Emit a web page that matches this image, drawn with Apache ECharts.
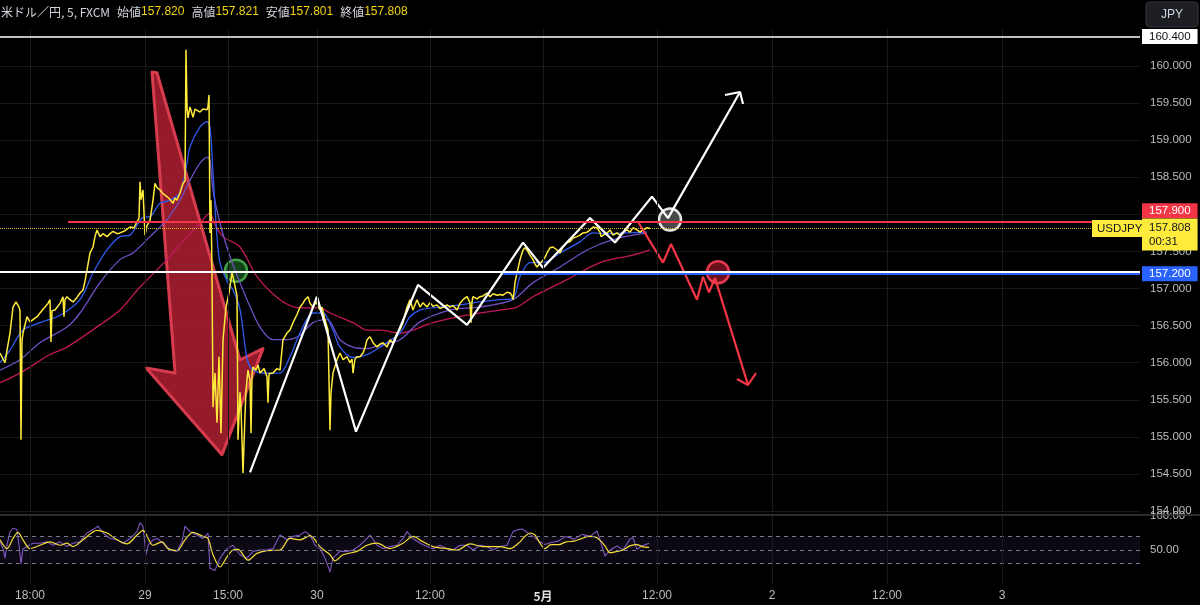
<!DOCTYPE html>
<html><head><meta charset="utf-8">
<script src="https://cdn.jsdelivr.net/npm/echarts@6/dist/echarts.min.js"></script>
<style>html,body{margin:0;padding:0;background:#000}#c{width:1200px;height:605px}</style>
</head><body><div id="c"></div>
<script>
// ---------- data (x = bar position index, y = price) ----------
const timeTicks  = [30,145,228,317,430,543,657,772,887,1002];
const timeLabels = ['18:00','29','15:00','30','12:00','5月','12:00','2','12:00','3'];

const ohlcNames  = ['始値','高値','安値','終値'];
const ohlcValues = ['157.820','157.821','157.801','157.808'];

const levelTop = 160.4, levelRed = 157.9, levelWhite = 157.22, levelBlue = 157.2, lastPrice = 157.808;

const price = [[0,156.13],[3,156.05],[5,156.00],[7,156.17],[10,156.40],[13,156.75],[16,156.82],[19,156.75],[20,156.70],[21,154.96],[22,156.30],[23,156.40],[27,156.62],[30,156.55],[33,156.58],[37,156.62],[40,156.67],[45,156.75],[48,156.80],[50,156.85],[51,156.28],[52,156.70],[55,156.71],[60,156.80],[63,156.89],[64,156.62],[65,156.85],[67,156.89],[70,156.85],[73,156.82],[77,156.88],[80,156.94],[83,156.98],[85,157.10],[87,157.25],[90,157.48],[93,157.56],[95,157.70],[97,157.79],[100,157.70],[103,157.74],[107,157.70],[110,157.74],[113,157.77],[117,157.74],[120,157.75],[125,157.78],[130,157.83],[134,157.82],[137,157.90],[139,157.95],[140,158.44],[141,158.20],[143,158.33],[145,157.72],[147,157.85],[150,157.92],[153,158.19],[155,158.42],[157,158.36],[160,158.33],[163,158.28],[167,158.24],[170,158.20],[173,158.15],[175,158.22],[177,158.19],[180,158.29],[183,158.42],[185,158.45],[186,160.22],[187,159.45],[188,159.30],[190,159.45],[193,159.31],[195,159.42],[197,159.40],[200,159.38],[203,159.42],[205,159.40],[207,159.41],[208,159.45],[209,159.61],[210,157.75],[211,158.19],[212,157.21],[213,155.40],[215,155.86],[217,155.19],[219,156.08],[221,155.05],[223,156.31],[226,156.75],[229,156.94],[232,157.21],[234,157.10],[236,157.12],[237,156.90],[238,154.96],[240,155.60],[241,155.40],[243,154.51],[245,155.30],[246,155.63],[248,155.90],[250,155.75],[251,155.05],[252,155.85],[253,155.94],[256,155.90],[258,155.97],[260,155.86],[264,155.92],[267,155.81],[268,155.46],[269,155.85],[273,155.86],[277,155.92],[280,155.90],[283,156.31],[287,156.40],[290,156.44],[293,156.54],[297,156.65],[300,156.75],[303,156.80],[305,156.85],[308,156.89],[310,156.80],[313,156.75],[316,156.82],[318,156.80],[320,156.71],[322,156.75],[325,156.58],[328,156.44],[330,155.09],[331,155.60],[333,155.86],[335,155.95],[337,156.04],[340,156.13],[343,156.04],[345,156.06],[347,156.08],[350,156.00],[352,156.05],[353,155.86],[355,156.05],[357,156.08],[360,156.08],[363,156.13],[365,156.20],[367,156.31],[370,156.35],[373,156.27],[377,156.21],[380,156.25],[383,156.27],[387,156.21],[390,156.31],[393,156.27],[397,156.40],[400,156.44],[403,156.54],[405,156.65],[407,156.75],[410,156.85],[413,156.71],[415,156.78],[417,156.85],[420,156.75],[423,156.81],[427,156.75],[430,156.81],[433,156.76],[437,156.78],[440,156.73],[443,156.75],[447,156.78],[450,156.75],[453,156.77],[457,156.71],[460,156.80],[463,156.85],[467,156.89],[470,156.81],[471,156.54],[472,156.82],[473,156.89],[477,156.86],[480,156.89],[483,156.90],[487,156.94],[490,156.89],[493,156.93],[497,156.91],[500,156.92],[503,156.91],[507,156.95],[510,156.94],[512,156.90],[513,156.85],[514,156.95],[515,157.08],[517,157.21],[520,157.39],[523,157.52],[525,157.55],[527,157.52],[530,157.45],[533,157.39],[535,157.33],[537,157.29],[540,157.34],[543,157.38],[545,157.42],[547,157.48],[550,157.55],[553,157.56],[555,157.54],[557,157.52],[560,157.48],[563,157.56],[567,157.62],[570,157.63],[573,157.68],[577,157.70],[580,157.72],[583,157.75],[587,157.76],[590,157.79],[593,157.83],[597,157.82],[600,157.76],[601,157.70],[603,157.72],[607,157.75],[610,157.79],[613,157.72],[617,157.75],[620,157.72],[623,157.76],[627,157.79],[630,157.76],[633,157.82],[637,157.79],[640,157.76],[643,157.79],[647,157.82],[650,157.81]];

const maFast = [[0,156.00],[10,156.17],[23,156.44],[40,156.54],[60,156.64],[80,156.85],[93,157.21],[107,157.52],[120,157.70],[130,157.72],[143,157.96],[150,157.97],[160,158.15],[170,158.19],[180,158.29],[187,158.69],[190,158.91],[200,159.18],[207,159.25],[210,159.18],[213,158.56],[217,157.70],[220,157.35],[227,157.10],[233,156.98],[240,156.72],[247,156.06],[253,155.90],[267,155.86],[280,155.86],[290,156.08],[300,156.40],[313,156.67],[323,156.67],[333,156.44],[340,156.21],[353,156.07],[367,156.11],[380,156.21],[400,156.40],[410,156.62],[420,156.71],[440,156.75],[460,156.78],[480,156.82],[500,156.85],[513,156.87],[520,157.16],[530,157.35],[543,157.35],[560,157.48],[580,157.63],[593,157.75],[607,157.74],[627,157.75],[647,157.76]];

const maMid = [[0,155.90],[20,156.04],[40,156.27],[67,156.48],[80,156.67],[100,157.08],[120,157.39],[133,157.48],[150,157.70],[167,157.93],[180,158.19],[190,158.46],[200,158.69],[207,158.77],[210,158.73],[213,158.33],[220,157.88],[230,157.43],[240,157.08],[247,156.85],[260,156.48],[273,156.31],[287,156.31],[300,156.37],[313,156.54],[327,156.58],[340,156.31],[353,156.21],[367,156.19],[380,156.24],[400,156.31],[420,156.55],[450,156.71],[480,156.75],[513,156.85],[533,157.08],[560,157.29],[587,157.52],[613,157.66],[647,157.75]];

const maSlow = [[0,155.73],[20,155.86],[50,156.11],[67,156.21],[100,156.51],[120,156.71],[140,157.02],[167,157.39],[187,157.70],[200,157.88],[210,158.02],[215,157.86],[223,157.70],[240,157.56],[257,157.16],[280,156.85],[300,156.74],[320,156.74],[330,156.67],[353,156.54],[367,156.44],[380,156.44],[400,156.40],[433,156.54],[467,156.64],[500,156.71],[517,156.75],[533,156.89],[567,157.12],[600,157.35],[633,157.45],[650,157.52]];

const rsi = [[0,62],[3,52],[5,38],[7,57],[10,77],[13,82],[17,80],[19,57],[21,30],[23,52],[27,55],[33,60],[40,60],[47,62],[53,57],[60,62],[67,55],[73,60],[80,62],[87,75],[93,80],[98,85],[103,75],[110,67],[117,65],[123,60],[130,67],[137,77],[140,90],[143,85],[146,43],[148,57],[153,65],[157,67],[163,60],[170,50],[177,48],[182,62],[185,85],[190,77],[197,72],[203,67],[208,75],[210,23],[215,20],[220,38],[227,52],[233,57],[240,43],[247,38],[253,48],[260,50],[267,50],[273,52],[280,72],[287,65],[293,70],[300,72],[305,77],[310,72],[315,57],[320,52],[325,38],[330,18],[333,38],[340,48],[347,48],[353,50],[360,57],[367,67],[370,72],[377,57],[383,52],[390,55],[397,57],[403,67],[407,77],[413,67],[420,60],[427,55],[433,52],[440,57],[447,52],[453,50],[460,57],[467,57],[473,50],[480,57],[487,55],[493,50],[500,55],[507,57],[513,77],[518,80],[522,81],[525,78],[533,70],[540,62],[545,58],[551,61],[558,63],[566,70],[574,66],[582,73],[590,70],[597,78],[600,65],[605,41],[610,50],[617,56],[623,50],[630,66],[633,68],[637,51],[642,56],[649,60]];

const rsiMa = [[0,65],[7,52],[13,67],[18,76],[23,65],[30,52],[40,57],[50,62],[60,57],[67,60],[73,55],[83,65],[97,79],[107,75],[117,65],[127,59],[137,72],[143,79],[153,57],[162,62],[168,52],[177,49],[185,65],[193,76],[203,70],[208,67],[213,43],[220,25],[227,40],[233,50],[238,51],[248,35],[257,45],[267,49],[280,50],[290,67],[300,65],[310,71],[320,55],[330,43],[335,34],[343,43],[357,48],[367,57],[377,60],[390,52],[403,60],[413,70],[423,62],[433,55],[447,52],[457,50],[470,59],[483,55],[500,55],[510,52],[520,62],[525,70],[530,75],[535,72],[540,60],[545,52],[551,58],[559,58],[566,62],[574,63],[582,67],[589,70],[597,68],[605,56],[610,46],[617,48],[623,50],[630,56],[637,58],[642,55],[649,54]];

// drawings (in bar/price space)
const bigArrow   = [[152,159.92],[157,159.91],[240,156.04],[263,156.19],[222,154.76],[146,155.93],[175,155.86]];
const upPath     = [[250,154.52],[317,156.89],[356,155.07],[418,157.05],[467,156.51],[523,157.62],[543,157.28],[590,157.95],[615,157.62],[652,158.24],[668,157.95],[740,159.65]];
const upHead     = [[725,159.61],[740,159.65],[743,159.49]];
const downPath   = [[638,157.90],[663,157.35],[671,157.60],[697,156.85],[703,157.16],[709,156.95],[715,157.14],[748,155.70]];
const downHead   = [[737,155.78],[748,155.70],[756,155.86]];
const circles    = [[236,157.24],[670,157.93],[718,157.22]];

// ---------- chart ----------
const circleStyles = [
  {fill:'rgba(27,94,32,0.7)', stroke:'#43a047'},
  {fill:'rgba(110,110,110,0.65)', stroke:'#e6e6e6'},
  {fill:'rgba(140,22,38,0.75)', stroke:'#e53950'}
];
const AX = '#bdbdbd';
const FONT = 'Liberation Sans';
const CJK = 'Noto Sans CJK JP';
const tagFont = {fontSize:11.5, fontFamily:FONT, lineHeight:13, padding:[1,7]};
const vGrid = {silent:true, symbol:'none', animation:false, label:{show:false},
  lineStyle:{color:'#1a1a1a', type:'solid', width:1}, data: timeTicks.map(t=>({xAxis:t}))};

const headerText = '{n|米ドル／円, 5, FXCM}' + ohlcNames.map((n,i)=>'{l|'+n+'}{v|'+ohlcValues[i]+'}').join('');

const chart = echarts.init(document.getElementById('c'));
chart.setOption({
  backgroundColor:'#000',
  animation:false,
  title:{left:1, top:6, padding:0, text:headerText, textStyle:{rich:{
    n:{color:'#d1d4dc', fontSize:12, fontFamily:CJK, fontWeight:'normal'},
    l:{color:'#d1d4dc', fontSize:12, fontFamily:CJK, fontWeight:'normal', padding:[0,0,0,7]},
    v:{color:'#f2d40e', fontSize:12, fontFamily:FONT, fontWeight:'normal'}}}},
  grid:[{left:0, right:60, top:29, height:482},{left:0, right:60, top:516, height:68}],
  xAxis:[
    {gridIndex:0, type:'value', min:0, max:1140, axisLine:{show:false}, axisTick:{show:false}, axisLabel:{show:false}, splitLine:{show:false}},
    {gridIndex:1, type:'value', min:0, max:1140, axisLine:{show:false}, axisTick:{show:false}, splitLine:{show:false},
     axisLabel:{customValues:timeTicks, color:AX, fontSize:12, fontFamily:FONT, margin:6,
       formatter:v=>{const i=timeTicks.indexOf(v); if(i<0) return ''; return timeLabels[i]==='5月' ? '{b|5月}' : timeLabels[i];},
       rich:{b:{fontWeight:'bold', color:'#e0e0e0', fontSize:12, fontFamily:CJK}}}}
  ],
  yAxis:[
    {gridIndex:0, type:'value', position:'right', min:154, max:160.5, interval:0.5,
     axisLine:{show:false}, axisTick:{show:false},
     axisLabel:{color:AX, fontSize:11.5, fontFamily:FONT, margin:10, showMinLabel:true, formatter:v=> v>160.2 ? '' : v.toFixed(3)},
     splitLine:{lineStyle:{color:'#181818'}, showMaxLine:false}},
    {gridIndex:1, type:'value', position:'right', min:0, max:100, interval:50,
     axisLine:{show:false}, axisTick:{show:false}, splitLine:{show:false},
     axisLabel:{color:AX, fontSize:11.5, fontFamily:FONT, margin:10, showMaxLabel:true, formatter:v=> v===0 ? '' : v.toFixed(2)}}
  ],
  graphic:[
    {type:'line', shape:{x1:0, y1:515, x2:1200, y2:515}, style:{stroke:'#3b3b3b', lineWidth:1.5}, z:10},
    {type:'rect', shape:{x:1146, y:2, width:52, height:25, r:4}, style:{fill:'#1c1e24', stroke:'#33363f', lineWidth:1}, z:10},
    {type:'text', x:1172, y:14.5, style:{text:'JPY', fill:'#d1d4dc', font:'12px Liberation Sans', align:'center', verticalAlign:'middle'}, z:11}
  ],
  series:[
    {type:'line', name:'ma200', xAxisIndex:0, yAxisIndex:0, data:maSlow, smooth:0.3, showSymbol:false, symbol:'none',
     lineStyle:{color:'#c2185b', width:1.3}, markLine:vGrid},
    {type:'line', name:'ma50', xAxisIndex:0, yAxisIndex:0, data:maMid, smooth:0.3, showSymbol:false, symbol:'none',
     lineStyle:{color:'#6f4fc4', width:1.3}},
    {type:'line', name:'ma20', xAxisIndex:0, yAxisIndex:0, data:maFast, smooth:0.3, showSymbol:false, symbol:'none',
     lineStyle:{color:'#2f5cf0', width:1.3}},
    {type:'custom', name:'bigArrow', xAxisIndex:0, yAxisIndex:0, data:[bigArrow[0]],
     renderItem:(params, api)=>({type:'polygon', shape:{points:bigArrow.map(p=>api.coord(p))},
       style:{fill:'rgba(178,32,50,0.84)', stroke:'rgba(222,62,80,0.95)', lineWidth:3, lineJoin:'round'}})},
    {type:'line', name:'USDJPY', xAxisIndex:0, yAxisIndex:0, data:price, showSymbol:false, symbol:'none',
     lineStyle:{color:'#ffeb3b', width:1.5},
     markLine:{silent:true, symbol:'none', animation:false, data:[
       {yAxis:levelTop, lineStyle:{color:'#ffffff', width:1.5, type:'solid'},
        label:{show:true, position:'end', distance:2, formatter:'160.400', color:'#111', backgroundColor:'#ffffff', ...tagFont}},
       [{coord:[68, levelRed], lineStyle:{color:'#f23645', width:2, type:'solid'}, label:{show:false}}, {coord:[1140, levelRed]}],
       {yAxis:lastPrice, lineStyle:{color:'#d8c21a', width:1, type:'dotted'}, label:{show:false}},
       {yAxis:levelWhite, lineStyle:{color:'#ffffff', width:2, type:'solid'}, label:{show:false}},
       [{coord:[503, levelBlue], lineStyle:{color:'#2962ff', width:2, type:'solid'},
         label:{show:true, position:'end', distance:2, formatter:'157.200', color:'#fff', backgroundColor:'#2962ff', ...tagFont}}, {coord:[1140, levelBlue]}],
       {yAxis:levelRed + 0.152, lineStyle:{color:'rgba(0,0,0,0)', width:0},
        label:{show:true, position:'end', distance:2, formatter:'157.900', color:'#fff', backgroundColor:'#f23645', ...tagFont}},
       {yAxis:lastPrice - 0.073, lineStyle:{color:'rgba(0,0,0,0)', width:0},
        label:{show:true, position:'end', distance:2, formatter:'157.808\n00:31', color:'#131722', backgroundColor:'#ffeb3b',
               fontSize:11.5, fontFamily:FONT, lineHeight:14, padding:[2,7]}},
       [{coord:[1000, lastPrice], lineStyle:{color:'rgba(0,0,0,0)', width:0},
         label:{show:true, position:'end', distance:2, formatter:'USDJPY', color:'#131722', backgroundColor:'#ffeb3b', ...tagFont, padding:[2,5]}}, {coord:[1090, lastPrice]}]
     ]}},
    {type:'line', name:'upPath', xAxisIndex:0, yAxisIndex:0, data:upPath, showSymbol:false, symbol:'none', lineStyle:{color:'#ffffff', width:2.2}},
    {type:'line', name:'upHead', xAxisIndex:0, yAxisIndex:0, data:upHead, showSymbol:false, symbol:'none', lineStyle:{color:'#ffffff', width:2.2}},
    {type:'line', name:'downPath', xAxisIndex:0, yAxisIndex:0, data:downPath, showSymbol:false, symbol:'none', lineStyle:{color:'#f23645', width:2.2}},
    {type:'line', name:'downHead', xAxisIndex:0, yAxisIndex:0, data:downHead, showSymbol:false, symbol:'none', lineStyle:{color:'#f23645', width:2.2}},
    {type:'custom', name:'circles', xAxisIndex:0, yAxisIndex:0, data:circles,
     renderItem:(params, api)=>{const c=api.coord([api.value(0), api.value(1)]); const s=circleStyles[params.dataIndex];
       return {type:'circle', shape:{cx:c[0], cy:c[1], r:11}, style:{fill:s.fill, stroke:s.stroke, lineWidth:2.5}};}},
    {type:'line', name:'RSI', xAxisIndex:1, yAxisIndex:1, data:rsi, showSymbol:false, symbol:'none',
     lineStyle:{color:'#7e57c2', width:1.1},
     markArea:{silent:true, itemStyle:{color:'rgba(126,87,194,0.10)'}, data:[[{yAxis:30},{yAxis:70}]]},
     markLine:{silent:true, symbol:'none', animation:false, label:{show:false},
       data:[{yAxis:70},{yAxis:50},{yAxis:30}].concat(timeTicks.map(t=>({xAxis:t, lineStyle:{color:'#1a1a1a', type:'solid', width:1}}))),
       lineStyle:{color:'#787b86', type:[4,4], width:1}}},
    {type:'line', name:'RSI MA', xAxisIndex:1, yAxisIndex:1, data:rsiMa, smooth:0.3, showSymbol:false, symbol:'none',
     lineStyle:{color:'#f5dd3a', width:1.2}}
  ]
});
</script></body></html>
